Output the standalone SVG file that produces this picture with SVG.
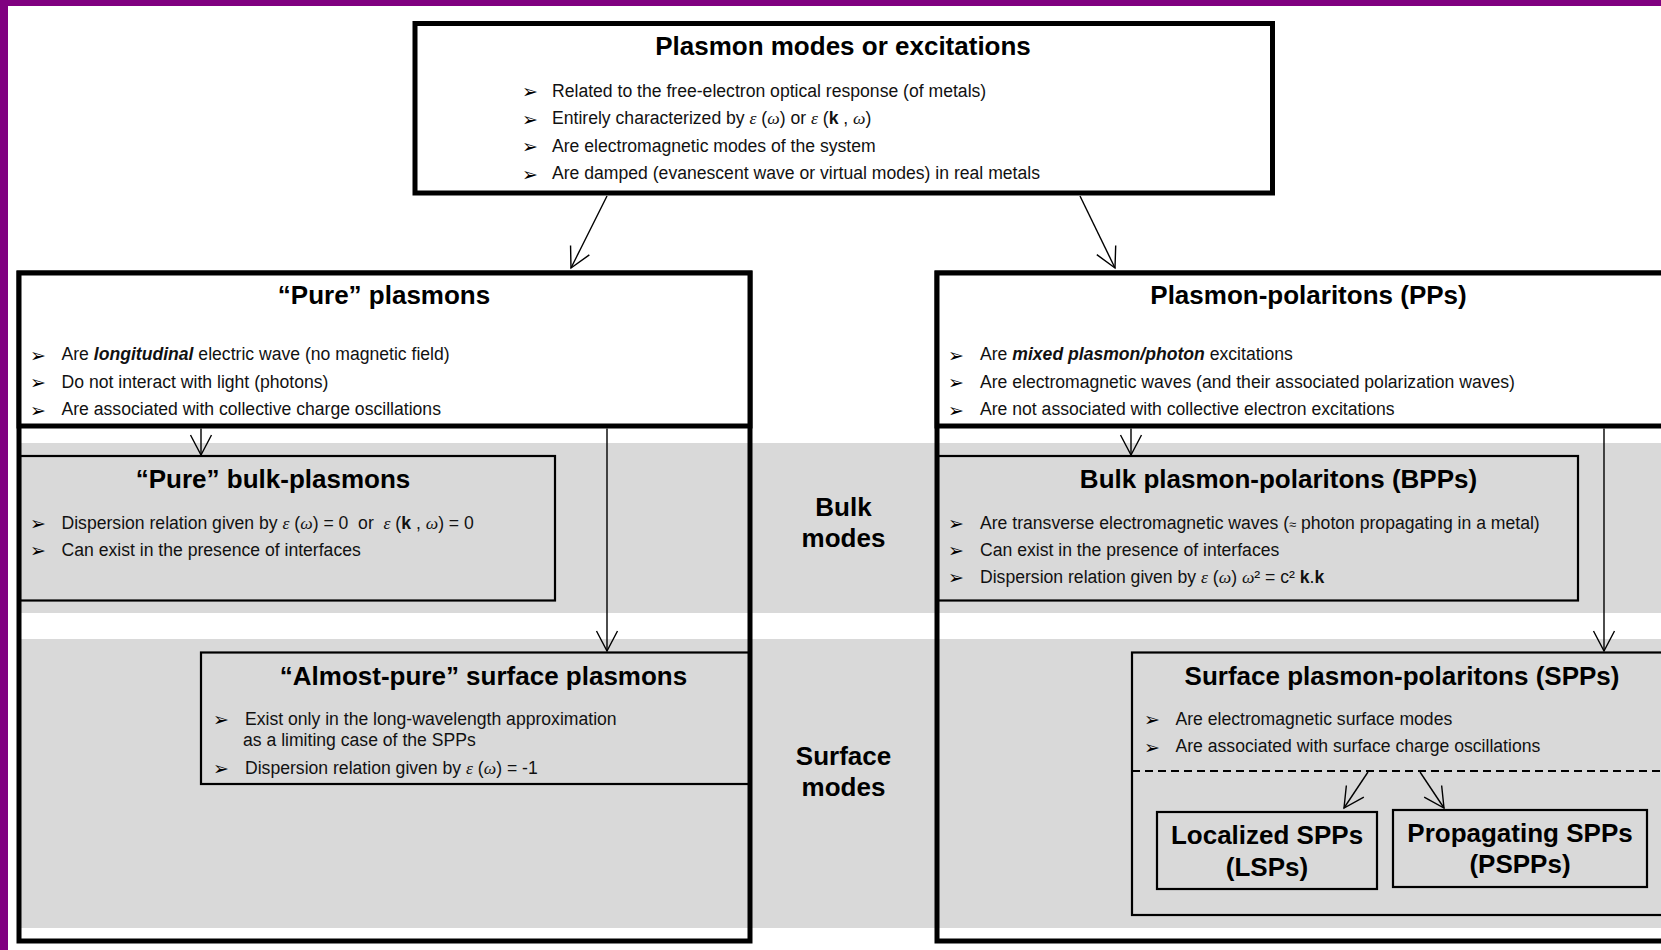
<svg xmlns="http://www.w3.org/2000/svg" width="1661" height="950" viewBox="0 0 1661 950">
<defs>
<style>
text{font-family:"Liberation Sans",Arial,sans-serif;fill:#000}
.ti{font-size:26px;font-weight:bold;text-anchor:middle}
.b{font-size:17.6px;fill:#111}
.bu{font-family:"DejaVu Sans",sans-serif;font-size:19px}
.m{font-family:"Liberation Serif","Times New Roman",serif;font-style:italic}
.k{font-weight:bold}
.bi{font-weight:bold;font-style:italic}
.thick{fill:none;stroke:#000;stroke-width:5}
.hdr{fill:#fff;stroke:#000;stroke-width:5}
.thin{fill:none;stroke:#000;stroke-width:2.2}
.band{fill:#d9d9d9}
.con{stroke:#000;stroke-width:1.4;fill:none;marker-end:url(#v)}
</style>
<marker id="v" markerUnits="userSpaceOnUse" markerWidth="26" markerHeight="26" viewBox="0 0 26 26" refX="23" refY="13" orient="auto">
<path d="M3,2.5 L23,13 L3,23.5" fill="none" stroke="#000" stroke-width="1.4"/>
</marker>
</defs>
<rect x="0" y="0" width="1661" height="950" fill="#fff"/>
<rect x="0" y="0" width="1661" height="6" fill="#800080"/>
<rect x="0" y="0" width="8" height="950" fill="#800080"/>
<g id="bands">
<rect class="band" x="19" y="443" width="1642" height="170"/>
<rect class="band" x="19" y="639" width="1642" height="289"/>
</g>
<g id="top">
<rect class="hdr" x="415" y="23.5" width="857.5" height="169.5"/>
<text class="ti" x="843" y="55">Plasmon modes or excitations</text>
<text class="bu" x="522" y="98">➢</text><text class="b" x="552" y="96.5">Related to the free-electron optical response (of metals)</text>
<text class="bu" x="522" y="125.5">➢</text><text class="b" x="552" y="124">Entirely characterized by <tspan class="m">ε</tspan> (<tspan class="m">ω</tspan>) or <tspan class="m">ε</tspan> (<tspan class="k">k</tspan> , <tspan class="m">ω</tspan>)</text>
<text class="bu" x="522" y="153">➢</text><text class="b" x="552" y="151.5">Are electromagnetic modes of the system</text>
<text class="bu" x="522" y="180.5">➢</text><text class="b" x="552" y="179">Are damped (evanescent wave or virtual modes) in real metals</text>
</g>
<g id="pure">
<rect class="thick" x="19" y="273" width="731" height="668"/>
<rect class="hdr" x="19" y="273" width="731" height="153"/>
<text class="ti" x="384" y="303.5">“Pure” plasmons</text>
<text class="bu" x="30" y="361.5">➢</text><text class="b" x="61.5" y="360">Are <tspan class="bi">longitudinal</tspan> electric wave (no magnetic field)</text>
<text class="bu" x="30" y="389">➢</text><text class="b" x="61.5" y="387.5">Do not interact with light (photons)</text>
<text class="bu" x="30" y="416.5">➢</text><text class="b" x="61.5" y="415">Are associated with collective charge oscillations</text>
</g>
<g id="pure-bulk">
<rect class="thin" x="20" y="456" width="535" height="144.5"/>
<text class="ti" x="273" y="487.5">“Pure” bulk-plasmons</text>
<text class="bu" x="30" y="530">➢</text><text class="b" x="61.5" y="528.5" xml:space="preserve">Dispersion relation given by <tspan class="m">ε</tspan> (<tspan class="m">ω</tspan>) = 0  or  <tspan class="m">ε</tspan> (<tspan class="k">k</tspan> , <tspan class="m">ω</tspan>) = 0</text>
<text class="bu" x="30" y="557">➢</text><text class="b" x="61.5" y="555.5">Can exist in the presence of interfaces</text>
</g>
<g id="almost-pure">
<rect class="thin" x="201" y="652.5" width="549" height="131.5"/>
<text class="ti" x="483.5" y="685">“Almost-pure” surface plasmons</text>
<text class="bu" x="213" y="726">➢</text><text class="b" x="245" y="724.5">Exist only in the long-wavelength approximation</text>
<text class="b" x="243" y="746">as a limiting case of the SPPs</text>
<text class="bu" x="213" y="775">➢</text><text class="b" x="245" y="773.5">Dispersion relation given by <tspan class="m">ε</tspan> (<tspan class="m">ω</tspan>) = -1</text>
</g>
<g id="pp">
<rect class="thick" x="937" y="273" width="800" height="668"/>
<rect class="hdr" x="937" y="273" width="800" height="153"/>
<text class="ti" x="1308.5" y="303.5">Plasmon-polaritons (PPs)</text>
<text class="bu" x="948" y="361.5">➢</text><text class="b" x="980" y="360">Are <tspan class="bi">mixed plasmon/photon</tspan> excitations</text>
<text class="bu" x="948" y="389">➢</text><text class="b" x="980" y="387.5">Are electromagnetic waves (and their associated polarization waves)</text>
<text class="bu" x="948" y="416.5">➢</text><text class="b" x="980" y="415">Are not associated with collective electron excitations</text>
</g>
<g id="bpp">
<rect class="thin" x="938" y="456" width="640" height="144.5"/>
<text class="ti" x="1278.5" y="487.5">Bulk plasmon-polaritons (BPPs)</text>
<text class="bu" x="948" y="530">➢</text><text class="b" x="980" y="528.5">Are transverse electromagnetic waves (<tspan font-size="13px">≈</tspan> photon propagating in a metal)</text>
<text class="bu" x="948" y="557">➢</text><text class="b" x="980" y="555.5">Can exist in the presence of interfaces</text>
<text class="bu" x="948" y="584">➢</text><text class="b" x="980" y="582.5">Dispersion relation given by <tspan class="m">ε</tspan> (<tspan class="m">ω</tspan>) <tspan class="m">ω</tspan>² = c² <tspan class="k">k</tspan>.<tspan class="k">k</tspan></text>
</g>
<g id="spp">
<rect class="thin" x="1132" y="652.5" width="600" height="262.5"/>
<text class="ti" x="1402" y="684.5">Surface plasmon-polaritons (SPPs)</text>
<text class="bu" x="1144" y="726">➢</text><text class="b" x="1175.5" y="724.5">Are electromagnetic surface modes</text>
<text class="bu" x="1144" y="753.5">➢</text><text class="b" x="1175.5" y="752">Are associated with surface charge oscillations</text>
<line x1="1132" y1="771" x2="1661" y2="771" stroke="#000" stroke-width="2" stroke-dasharray="8,5"/>
</g>
<g id="lsp">
<rect class="thin" x="1157" y="812" width="220" height="77"/>
<text class="ti" x="1267" y="844">Localized SPPs</text>
<text class="ti" x="1267" y="875.5">(LSPs)</text>
</g>
<g id="pspp">
<rect class="thin" x="1393" y="810" width="254" height="77"/>
<text class="ti" x="1520" y="842">Propagating SPPs</text>
<text class="ti" x="1520" y="873">(PSPPs)</text>
</g>
<g id="bulk-label">
<text class="ti" x="843.5" y="516">Bulk</text>
<text class="ti" x="843.5" y="547">modes</text>
</g>
<g id="surface-label">
<text class="ti" x="843.5" y="764.5">Surface</text>
<text class="ti" x="843.5" y="795.5">modes</text>
</g>
<g id="connectors">
<path class="con" d="M607,196 L571,268"/>
<path class="con" d="M1080,196 L1115,268"/>
<path class="con" d="M201,428.5 L201,455"/>
<path class="con" d="M607,428.5 L607,651"/>
<path class="con" d="M1131,428.5 L1131,455"/>
<path class="con" d="M1604,428.5 L1604,651"/>
<path class="con" d="M1368,772 L1344,808"/>
<path class="con" d="M1420,772 L1444,808"/>
</g>
</svg>
